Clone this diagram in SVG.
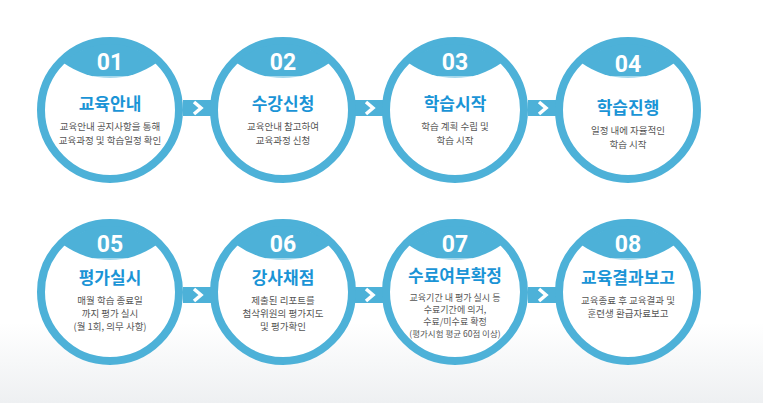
<svg xmlns="http://www.w3.org/2000/svg" width="763" height="403" viewBox="0 0 763 403">
<defs>
<linearGradient id="bg" x1="0" y1="0" x2="0" y2="1"><stop offset="0.8" stop-color="#ffffff"/><stop offset="1" stop-color="#eef0f2"/></linearGradient>
<g id="circ">
<circle r="69" fill="#fff" stroke="#4db1d8" stroke-width="8"/>
<path d="M-46.4 -46.9 A66 66 0 0 1 46.4 -46.9 A80 80 0 0 1 -46.4 -46.9 Z" fill="#4db1d8"/>
<line x1="-17" y1="-33" x2="17" y2="-33" stroke="#fff" stroke-width="1"/>
</g>
<g id="arr">
<rect x="-14" y="-8" width="28" height="16" fill="#4db1d8"/>
<path d="M-3 -6 L4 0 L-3 6" fill="none" stroke="#fff" stroke-width="3.5"/>
</g>
</defs>
<style>
.num{font-family:"Liberation Sans Narrow","Roboto","Liberation Sans",sans-serif;font-weight:bold;font-size:23px;fill:#fff;text-anchor:middle}
.ttl{font-family:"Noto Sans CJK KR",sans-serif;font-weight:bold;font-size:17px;fill:#1a94d6;text-anchor:middle}
.txt{font-family:"Noto Sans CJK KR",sans-serif;font-size:9.5px;fill:#555;text-anchor:middle}
</style>
<rect width="763" height="403" fill="url(#bg)"/>
<g id="connectors">
<use href="#arr" x="197" y="108"/><use href="#arr" x="369" y="108"/><use href="#arr" x="542" y="108"/>
<use href="#arr" x="197" y="295"/><use href="#arr" x="369" y="295"/><use href="#arr" x="542" y="295"/>
</g>
<g id="n01" transform="translate(110,110)"><use href="#circ"/><text class="num" y="-40">01</text><text class="ttl" y="0">교육안내</text><text class="txt" y="20">교육안내 공지사항을 통해</text><text class="txt" y="34">교육과정 및 학습일정 확인</text></g>
<g id="n02" transform="translate(283,110)"><use href="#circ"/><text class="num" y="-40">02</text><text class="ttl" y="0">수강신청</text><text class="txt" y="20">교육안내 참고하여</text><text class="txt" y="34">교육과정 신청</text></g>
<g id="n03" transform="translate(455,110)"><use href="#circ"/><text class="num" y="-40">03</text><text class="ttl" y="0">학습시작</text><text class="txt" y="20">학습 계획 수립 및</text><text class="txt" y="34">학습 시작</text></g>
<g id="n04" transform="translate(628,110)"><use href="#circ"/><text class="num" y="-38">04</text><text class="ttl" y="4">학습진행</text><text class="txt" y="24">일정 내에 자율적인</text><text class="txt" y="38">학습 시작</text></g>
<g id="n05" transform="translate(110,292)"><use href="#circ"/><text class="num" y="-40">05</text><text class="ttl" y="-8">평가실시</text><text class="txt" y="12">매월 학습 종료일</text><text class="txt" y="25">까지 평가 실시</text><text class="txt" y="38">(월 1회, 의무 사항)</text></g>
<g id="n06" transform="translate(283,292)"><use href="#circ"/><text class="num" y="-40">06</text><text class="ttl" y="-8">강사채점</text><text class="txt" y="12">제출된 리포트를</text><text class="txt" y="25">첨삭위원의 평가지도</text><text class="txt" y="38">및 평가확인</text></g>
<g id="n07" transform="translate(455,292)"><use href="#circ"/><text class="num" y="-40">07</text><text class="ttl" y="-10">수료여부확정</text><text class="txt" y="9" style="font-size:9px">교육기간 내 평가 실시 등</text><text class="txt" y="21" style="font-size:9px">수료기간에 의거,</text><text class="txt" y="33" style="font-size:9px">수료/미수료 확정</text><text class="txt" y="45" style="font-size:8.5px">(평가시험 평균 60점 이상)</text></g>
<g id="n08" transform="translate(628,292)"><use href="#circ"/><text class="num" y="-40">08</text><text class="ttl" y="-8">교육결과보고</text><text class="txt" y="12">교육종료 후 교육결과 및</text><text class="txt" y="25">훈련생 환급자료보고</text></g>
</svg>
